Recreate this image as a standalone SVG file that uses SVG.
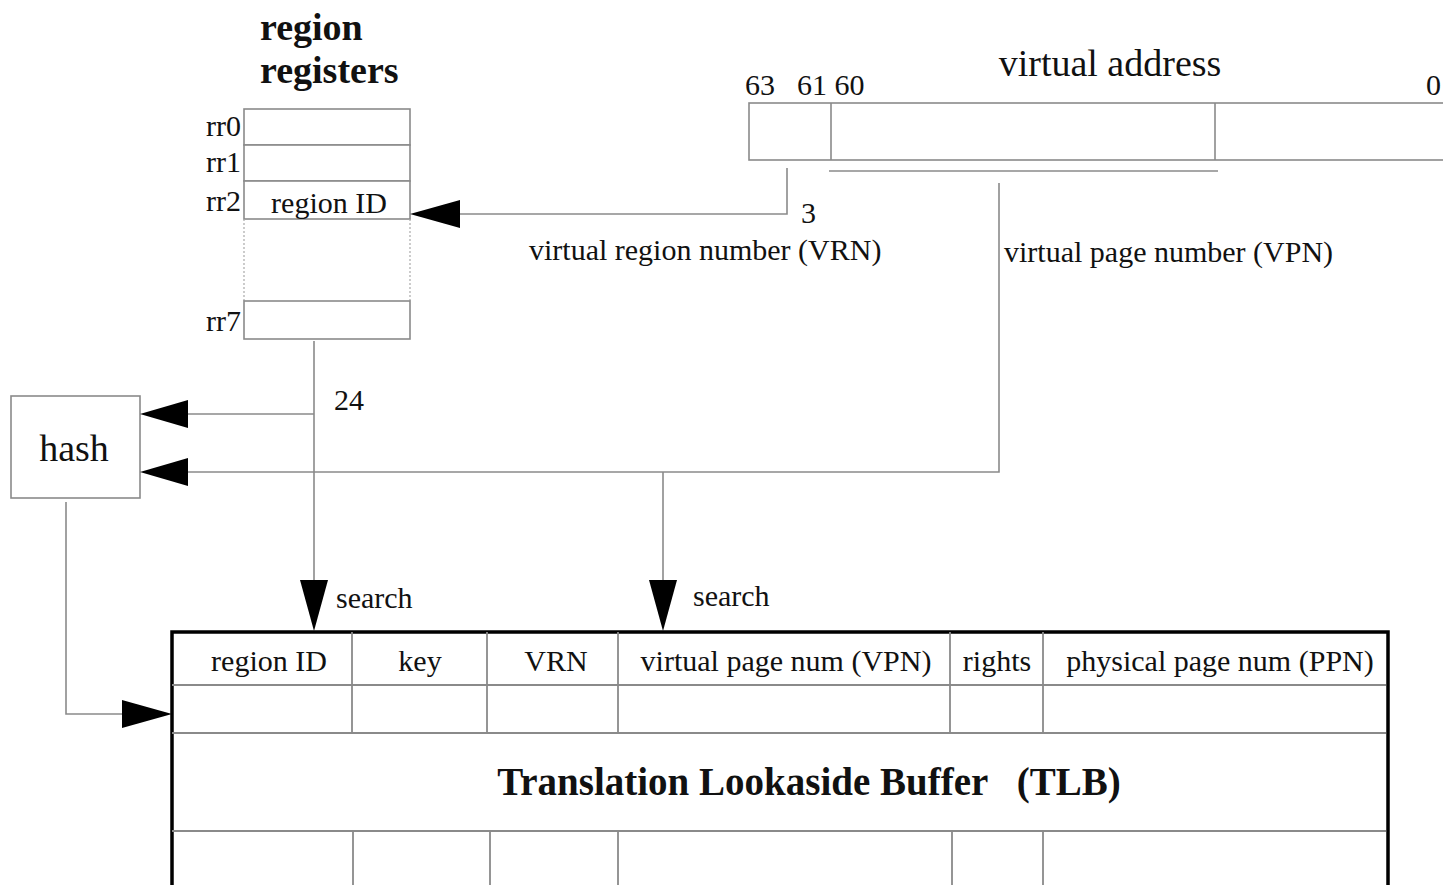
<svg xmlns="http://www.w3.org/2000/svg" width="1443" height="885" viewBox="0 0 1443 885">
<style>
text{font-family:"Liberation Serif","Times New Roman",serif;fill:#111;font-size:30px}
.b{font-weight:bold}
.big{font-size:38px}
.title{font-size:39px}
.mid{text-anchor:middle}
.end{text-anchor:end}
.ln{fill:none;stroke:#8a8a8a;stroke-width:1.6}
.box{fill:#fff;stroke:#8a8a8a;stroke-width:1.6}
.dot{fill:none;stroke:#aaa;stroke-width:1.2;stroke-dasharray:2 2}
.ah{fill:#000}
.tlb{fill:#fff;stroke:#000;stroke-width:3.5}
.grid{fill:none;stroke:#8a8a8a;stroke-width:1.8}
</style>
<rect width="1443" height="885" fill="#fff"/>

<g id="region-registers">
  <text class="b big" x="260" y="40">region</text>
  <text class="b big" x="260" y="83">registers</text>
  <rect class="box" x="244" y="109" width="166" height="36"/>
  <rect class="box" x="244" y="145" width="166" height="36"/>
  <rect class="box" x="244" y="181" width="166" height="38"/>
  <line class="dot" x1="244" y1="219" x2="244" y2="301"/>
  <line class="dot" x1="410" y1="219" x2="410" y2="301"/>
  <rect class="box" x="244" y="301" width="166" height="38"/>
  <text class="end" x="241" y="136">rr0</text>
  <text class="end" x="241" y="172">rr1</text>
  <text class="end" x="241" y="211">rr2</text>
  <text class="end" x="241" y="331">rr7</text>
  <text class="mid" x="329" y="213">region ID</text>
</g>

<g id="virtual-address">
  <text class="big mid" x="1110" y="76">virtual address</text>
  <text x="745" y="95">63</text>
  <text x="797" y="95">61 60</text>
  <text class="end" x="1441" y="95">0</text>
  <rect class="box" x="749" y="103" width="720" height="57"/>
  <line class="ln" x1="831" y1="103" x2="831" y2="160"/>
  <line class="ln" x1="1215" y1="103" x2="1215" y2="160"/>
  <line class="ln" x1="829" y1="171" x2="1218" y2="171"/>
</g>

<g id="hash">
  <rect class="box" x="11" y="396" width="129" height="102"/>
  <text class="big mid" x="74" y="461">hash</text>
</g>

<g id="tlb">
  <rect class="tlb" x="172" y="632" width="1216" height="270"/>
  <line class="grid" x1="172" y1="685" x2="1386" y2="685"/>
  <line class="grid" x1="172" y1="733" x2="1386" y2="733"/>
  <line class="grid" x1="172" y1="831" x2="1386" y2="831"/>
  <line class="grid" x1="352" y1="632" x2="352" y2="733"/>
  <line class="grid" x1="487" y1="632" x2="487" y2="733"/>
  <line class="grid" x1="618" y1="632" x2="618" y2="733"/>
  <line class="grid" x1="950" y1="632" x2="950" y2="733"/>
  <line class="grid" x1="1043" y1="632" x2="1043" y2="733"/>
  <line class="grid" x1="353" y1="831" x2="353" y2="885"/>
  <line class="grid" x1="490" y1="831" x2="490" y2="885"/>
  <line class="grid" x1="618" y1="831" x2="618" y2="885"/>
  <line class="grid" x1="952" y1="831" x2="952" y2="885"/>
  <line class="grid" x1="1043" y1="831" x2="1043" y2="885"/>
  <text class="mid" x="269" y="671">region ID</text>
  <text class="mid" x="420" y="671">key</text>
  <text class="mid" x="556" y="671">VRN</text>
  <text class="mid" x="786" y="671">virtual page num (VPN)</text>
  <text class="mid" x="997" y="671">rights</text>
  <text class="mid" x="1220" y="671">physical page num (PPN)</text>
  <text class="b title mid" x="809" y="795" xml:space="preserve">Translation Lookaside Buffer   (TLB)</text>
</g>

<g id="connectors">
  <polyline class="ln" points="787,168 787,214 458,214"/>
  <polygon class="ah" points="410,214 460,200 460,228"/>
  <text x="801" y="223">3</text>
  <text x="529" y="260">virtual region number (VRN)</text>

  <polyline class="ln" points="999,183 999,472 186,472"/>
  <polygon class="ah" points="140,472 188,458 188,486"/>
  <text x="1004" y="262">virtual page number (VPN)</text>

  <line class="ln" x1="314" y1="341" x2="314" y2="584"/>
  <polygon class="ah" points="314,631 300,580 328,580"/>
  <line class="ln" x1="314" y1="414" x2="186" y2="414"/>
  <polygon class="ah" points="140,414 188,400 188,428"/>
  <text x="334" y="410">24</text>
  <text x="336" y="608">search</text>

  <line class="ln" x1="663" y1="472" x2="663" y2="584"/>
  <polygon class="ah" points="663,631 649,580 677,580"/>
  <text x="693" y="606">search</text>

  <polyline class="ln" points="66,502 66,714 126,714"/>
  <polygon class="ah" points="172,714 122,700 122,728"/>
</g>
</svg>
